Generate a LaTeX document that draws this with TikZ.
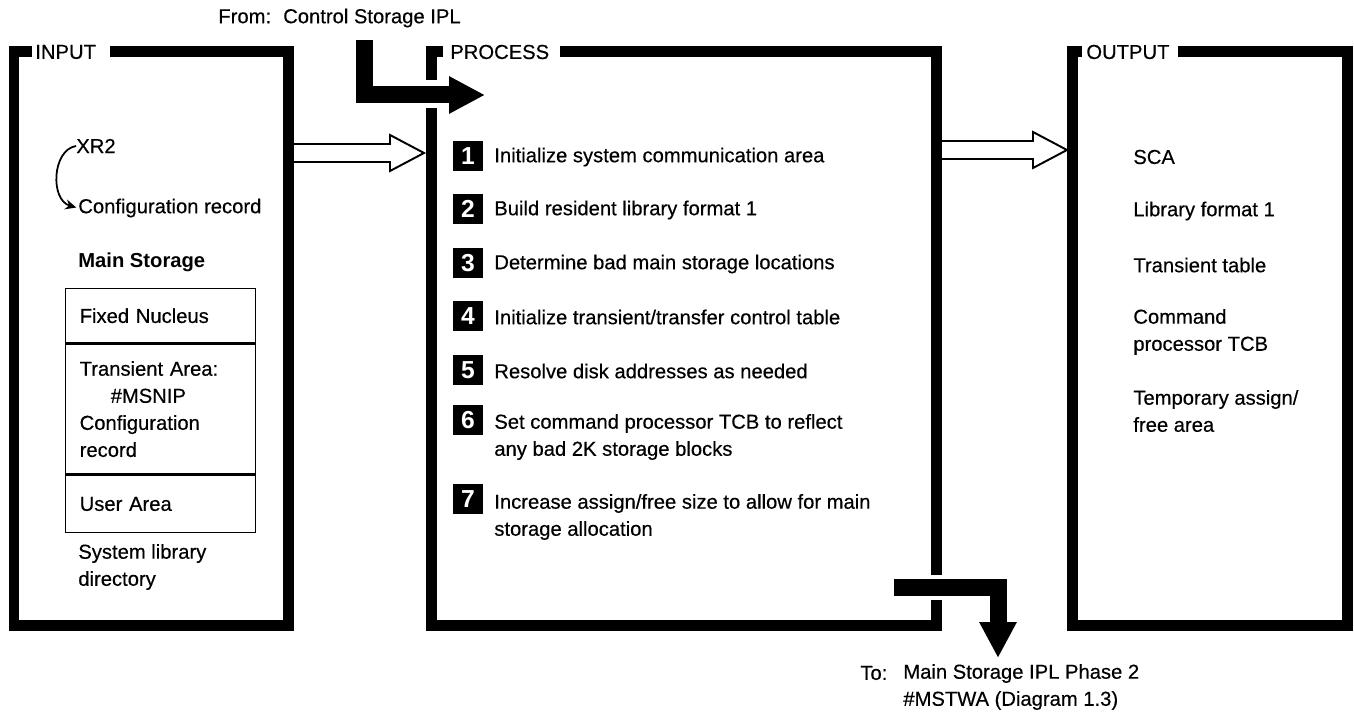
\documentclass[tikz,border=0pt]{standalone}
\usepackage{fontspec}
\setmainfont{Liberation Sans}[UprightFeatures={FakeBold=0.4}]
\usetikzlibrary{arrows.meta,positioning,calc}
\newcommand{\hipofont}{\fontsize{11.5}{15.4}\selectfont}
\tikzset{
  frame/.style={line width=0.22cm,line join=miter},
  title/.style={font=\hipofont,anchor=west,inner sep=0pt},
  txt/.style={font=\hipofont,anchor=west,align=left,inner sep=0pt},
  numbox/.style={fill=black,text=white,font=\fontsize{14}{16}\selectfont\bfseries,minimum size=0.6cm,inner sep=0pt},
  memcell/.style={draw,line width=0.8pt,text width=3.24cm,align=left,inner xsep=0.28cm,
                  inner ysep=0pt,font=\hipofont},
  openarr/.style={line width=1.1pt,line join=miter},
  bigarr/.style={line width=0.34cm,line join=miter,-{Triangle[length=0.72cm,width=0.7cm]}},
  curv/.style={line width=1pt,-{Stealth[length=2.2mm,width=2mm]},shorten >=1pt},
}
% hollow double-line arrow between two named points on one level
\newcommand{\openarrow}[2]{%
  \draw[openarr] ($(#1)+(0,-9)$) -- ($(#2)+(-34,-9)$) -- ($(#2)+(-34,-18)$) -- (#2)
    -- ($(#2)+(-34,18)$) -- ($(#2)+(-34,9)$) -- ($(#1)+(0,9)$);}

\begin{document}
\begin{tikzpicture}[x=0.02cm,y=-0.02cm]
  \useasboundingbox (0,0) rectangle (1354,715);

  % frames
  \node[title] (intitle) at (35,52) {INPUT};
  \node[title] (proctitle) at (450,52) {PROCESS};
  \node[title] (outtitle) at (1086,52) {OUTPUT};
  \draw[frame] (32,52) -- (14,52) -- (14,625) -- (288,625) -- (288,52) -- ($(intitle.east)+(14,0)$);
  \draw[frame] (443,52) -- (431.5,52) -- (431.5,80);
  \draw[frame] (431.5,108) -- (431.5,625) -- (936,625) -- (936,600);
  \draw[frame] (936,575) -- (936,52) -- ($(proctitle.east)+(10,0)$);
  \draw[frame] (1082,52) -- (1072,52) -- (1072,625) -- (1347,625) -- (1347,52) -- ($(outtitle.east)+(8,0)$);

  % input
  \node[txt] (xr2) at (76,146) {XR2};
  \node[txt] (conf) at (78,208) {Configuration record};
  \draw[curv] (xr2.west) .. controls (52,150) and (50,200) .. (conf.west);
  \node[txt,font=\hipofont\bfseries] (mainst) at (78,262) {Main Storage};
  \node[memcell,minimum height=1.08cm,anchor=north west] (fixed) at (65,288) {Fixed Nucleus};
  \node[memcell,minimum height=2.6cm,below=0pt of fixed] (trans) {Transient Area:\\\hspace*{0.62cm}\#MSNIP\\Configuration\\record};
  \node[memcell,minimum height=1.14cm,below=0pt of trans] (user) {User Area};
  \node[txt] (sysdir) at (78,567) {System library\\directory};

  % process
  \node[numbox] (n1) at (468,156) {1};
  \node[txt] (t1) at (494,157) {Initialize system communication area};
  \node[numbox] (n2) at (468,209) {2};
  \node[txt] (t2) at (494,210) {Build resident library format 1};
  \node[numbox] (n3) at (468,263) {3};
  \node[txt] (t3) at (494,264) {Determine bad main storage locations};
  \node[numbox] (n4) at (468,316) {4};
  \node[txt] (t4) at (494,317) {Initialize transient/transfer control table};
  \node[numbox] (n5) at (468,370) {5};
  \node[txt] (t5) at (494,371) {Resolve disk addresses as needed};
  \node[numbox] (n6) at (468,420) {6};
  \node[txt] (t6) at (494,437) {Set command processor TCB to reflect\\any bad 2K storage blocks};
  \node[numbox] (n7) at (468,499) {7};
  \node[txt] (t7) at (494,517) {Increase assign/free size to allow for main\\storage allocation};

  % output
  \node[txt] (sca) at (1133,157) {SCA};
  \node[txt] (libf) at (1133,211) {Library format 1};
  \node[txt] (ttab) at (1133,265) {Transient table};
  \node[txt] (tcb) at (1133,332) {Command\\processor TCB};
  \node[txt] (tafa) at (1133,411) {Temporary assign/\\free area};

  % flows
  \coordinate (ia) at (294,153);
  \coordinate (ib) at (424,153);
  \openarrow{ia}{ib}
  \coordinate (oa) at (942,150);
  \coordinate (ob) at (1067,150);
  \openarrow{oa}{ob}

  \node[txt] (src) at (218,18) {From:\hspace{0.6em}Control Storage IPL};
  \coordinate (srcdrop) at (364,40);
  \coordinate (intip) at (485,95);
  \draw[bigarr] (srcdrop) |- (intip);

  \coordinate (exstart) at (894,587);
  \coordinate (extip) at (998,658);
  \draw[bigarr] (exstart) -| (extip);
  \node[txt] (tolbl) at (860,673) {To:};
  \node[txt] (dst) at (903,687) {Main Storage IPL Phase 2\\\#MSTWA (Diagram 1.3)};
\end{tikzpicture}
\end{document}
